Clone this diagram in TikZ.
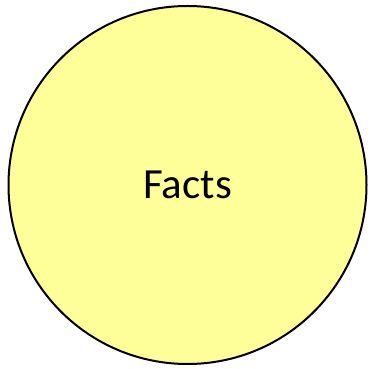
\documentclass[tikz,border=0pt]{standalone}
\usepackage{fontspec}
\setmainfont{Carlito}
\usepackage{tikz}
\definecolor{factfill}{HTML}{FFFF99}
\tikzset{
  factcircle/.style={draw=black, fill=factfill, circle, line width=2pt,
                     minimum size=358pt, inner sep=0pt,
                     font=\fontsize{43}{50}\selectfont},
}
\begin{document}
\begin{tikzpicture}[x=1pt,y=1pt]
        \useasboundingbox (0,0) rectangle (372,369);

        % the single circle
        \node[factcircle] (facts) at (187.5,184) {Facts};
      \end{tikzpicture}
\end{document}
